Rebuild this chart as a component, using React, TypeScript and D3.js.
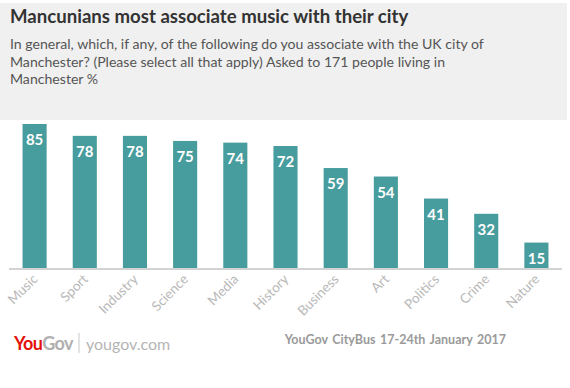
import React, { useRef, useEffect } from "react";
import * as d3 from "d3";

const categories = ["Music", "Sport", "Industry", "Science", "Media", "History", "Business", "Art", "Politics", "Crime", "Nature"];
const values = [85, 78, 78, 75, 74, 72, 59, 54, 41, 32, 15];
const subtitleLines = [
  "In general, which, if any, of the following do you associate with the UK city of",
  "Manchester? (Please select all that apply) Asked to 171 people living in",
  "Manchester %",
];

export default function App() {
  const ref = useRef<SVGSVGElement>(null);

  useEffect(() => {
    const width = 570;
    const height = 388;
    const font = "Lato, 'Open Sans', sans-serif";
    const svg = d3.select(ref.current);
    svg.selectAll("*").remove();
    svg.attr("width", width).attr("height", height);

    svg.append("rect").attr("width", width).attr("height", height).attr("fill", "#fff");
    svg.append("rect").attr("x", 0).attr("y", 3).attr("width", 567).attr("height", 117).attr("fill", "#f0f0f0");

    svg.append("text")
      .attr("x", 10).attr("y", 23)
      .attr("font-family", font).attr("font-size", 18.6).attr("font-weight", 700)
      .attr("fill", "#333")
      .text("Mancunians most associate music with their city");

    svg.append("g").selectAll("text")
      .data(subtitleLines)
      .join("text")
      .attr("x", 10)
      .attr("y", (d, i) => 49 + i * 17.5)
      .attr("font-family", font).attr("font-size", 14.1)
      .attr("fill", "#555")
      .text(d => d);

    const baseline = 268;
    const x = d3.scaleBand()
      .domain(categories)
      .range([9, 562])
      .paddingInner(0.52)
      .paddingOuter(0.27);

    const y = d3.scaleLinear().domain([0, 85]).range([baseline, 124]);

    const data = categories.map((c, i) => ({ label: c, value: values[i] }));

    svg.append("g")
      .selectAll("rect")
      .data(data)
      .join("rect")
      .attr("x", d => x(d.label)!)
      .attr("y", d => y(d.value))
      .attr("width", x.bandwidth())
      .attr("height", d => baseline - y(d.value))
      .attr("fill", "#479c9d");

    svg.append("g")
      .selectAll("text")
      .data(data)
      .join("text")
      .attr("x", d => x(d.label)! + x.bandwidth() / 2)
      .attr("y", d => y(d.value) + 21)
      .attr("text-anchor", "middle")
      .attr("font-family", font).attr("font-size", 15).attr("font-weight", 700)
      .attr("fill", "#fff")
      .text(d => d.value);

    svg.append("line")
      .attr("x1", 9).attr("x2", 562)
      .attr("y1", baseline + 1).attr("y2", baseline + 1)
      .attr("stroke", "#d3d3d3").attr("stroke-width", 2);

    svg.append("g")
      .selectAll("text")
      .data(categories)
      .join("text")
      .attr("transform", d => `translate(${x(d)! + x.bandwidth() / 2 + 4},${baseline + 12}) rotate(-45)`)
      .attr("text-anchor", "end")
      .attr("font-family", font).attr("font-size", 13.5)
      .attr("fill", "#b8b8b8")
      .text(d => d);

    // footer
    const logo = svg.append("text")
      .attr("x", 14).attr("y", 350)
      .attr("font-family", font).attr("font-size", 18).attr("font-weight", 700)
      .attr("letter-spacing", -0.6);
    logo.append("tspan").attr("fill", "#e3120b").text("You");
    logo.append("tspan").attr("fill", "#b0b0b0").text("Gov");
    svg.append("line")
      .attr("x1", 79).attr("x2", 79).attr("y1", 333).attr("y2", 353)
      .attr("stroke", "#c8c8c8").attr("stroke-width", 1);
    svg.append("text")
      .attr("x", 86).attr("y", 350)
      .attr("font-family", font).attr("font-size", 16)
      .attr("fill", "#b5b5b5")
      .text("yougov.com");

    svg.append("text")
      .attr("x", 506).attr("y", 344)
      .attr("text-anchor", "end")
      .attr("font-family", font).attr("font-size", 12.5).attr("font-weight", 700)
      .attr("fill", "#9a9a9a")
      .attr("word-spacing", 1.5)
      .text("YouGov CityBus 17-24th January 2017");
  }, []);

  return (
    <div style={{ position: "absolute", left: 0, top: 0 }}>
      <svg ref={ref} style={{ display: "block" }}></svg>
    </div>
  );
}
